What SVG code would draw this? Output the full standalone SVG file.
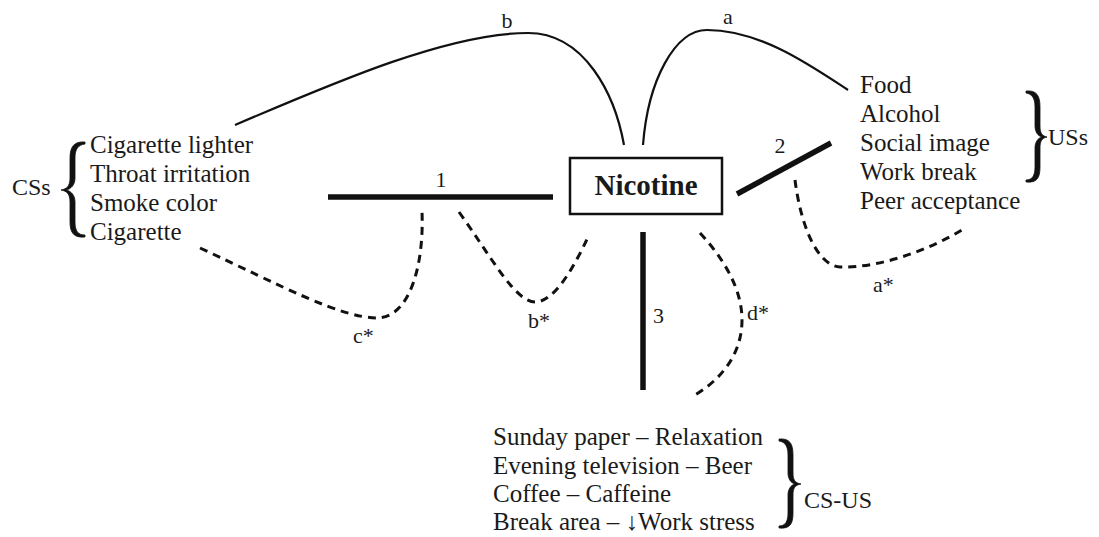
<svg xmlns="http://www.w3.org/2000/svg" width="1099" height="537" viewBox="0 0 1099 537">
<style>
text{font-family:"Liberation Serif","Times New Roman",serif;fill:#1a1a1a}
.item{font-size:25px}
.lbl{font-size:22px}
.grp{font-size:24px}
.solid{fill:none;stroke:#111;stroke-width:2.2}
.dash{fill:none;stroke:#111;stroke-width:3;stroke-dasharray:8 6}
.bar{stroke:#111;stroke-width:5.5;stroke-linecap:butt}
.brace{fill:#111;stroke:#111;stroke-width:0.8;stroke-linejoin:round}
</style>
<rect width="1099" height="537" fill="#fff"/>
<g id="connectors">
<path class="solid" d="M 235 125 C 340 80, 450 33, 528 33 C 585 33, 615 95, 624 145"/>
<path class="solid" d="M 643 145 C 648 80, 675 30, 707 30 C 760 30, 810 65, 848 90"/>
<path class="dash" d="M 200 248 C 280 285, 340 318, 378 318 C 412 316, 424 260, 422 212"/>
<path class="dash" d="M 459 212 C 490 255, 515 302, 535 302 C 555 302, 575 265, 588 237"/>
<path class="dash" d="M 700 233 C 725 260, 742 290, 742 320 C 742 355, 720 380, 695 395"/>
<path class="dash" d="M 795 180 C 800 220, 815 265, 840 267 C 880 268, 930 250, 965 228"/>
<line class="bar" x1="328" y1="197" x2="553" y2="197"/>
<line class="bar" x1="737" y1="194" x2="831" y2="143"/>
<line class="bar" x1="643" y1="232" x2="643" y2="390"/>
<text class="lbl" x="507" y="28" text-anchor="middle">b</text>
<text class="lbl" x="728" y="24" text-anchor="middle">a</text>
<text class="lbl" x="441" y="187" text-anchor="middle">1</text>
<text class="lbl" x="780" y="153" text-anchor="middle">2</text>
<text class="lbl" x="653" y="323">3</text>
<text class="lbl" x="353" y="343">c*</text>
<text class="lbl" x="528" y="328">b*</text>
<text class="lbl" x="747" y="320">d*</text>
<text class="lbl" x="873" y="292">a*</text>
</g>
<g id="nicotine">
<rect x="570" y="158" width="152" height="56" fill="#fff" stroke="#111" stroke-width="2.5"/>
<text x="646" y="195" text-anchor="middle" font-size="29" font-weight="bold">Nicotine</text>
</g>
<g id="css">
<path class="brace" d="M 85 142 C 74 141, 70 147, 70 158 L 70 178 C 70 186, 67 189, 61 190 C 67 191, 70 194, 70 202 L 70 222 C 70 233, 74 238, 85 237 L 85 235 C 78 235, 75 231, 75 222 L 75 202 C 75 195, 71 191, 66 190 C 71 189, 75 185, 75 178 L 75 158 C 75 149, 78 145, 85 144 Z"/>
<text class="grp" x="12" y="195" font-size="23">CSs</text>
<text class="item" x="90" y="153">Cigarette lighter</text>
<text class="item" x="90" y="182">Throat irritation</text>
<text class="item" x="90" y="211">Smoke color</text>
<text class="item" x="90" y="240">Cigarette</text>
</g>
<g id="uss">
<text class="item" x="860" y="93">Food</text>
<text class="item" x="860" y="122">Alcohol</text>
<text class="item" x="860" y="151">Social image</text>
<text class="item" x="860" y="180">Work break</text>
<text class="item" x="860" y="209">Peer acceptance</text>
<path class="brace" d="M 1026 91 C 1037 90, 1040 96, 1040 107 L 1040 126 C 1040 133, 1042 136, 1047 137 C 1042 138, 1040 141, 1040 148 L 1040 167 C 1040 178, 1037 183, 1026 182 L 1026 180 C 1032 180, 1035 176, 1035 167 L 1035 148 C 1035 142, 1038 138, 1042 137 C 1038 136, 1035 132, 1035 126 L 1035 107 C 1035 98, 1032 94, 1026 93 Z"/>
<text class="grp" x="1048" y="145">USs</text>
</g>
<g id="csus">
<text class="item" x="493" y="445">Sunday paper – Relaxation</text>
<text class="item" x="493" y="474">Evening television – Beer</text>
<text class="item" x="493" y="502">Coffee – Caffeine</text>
<text class="item" x="493" y="530">Break area – ↓Work stress</text>
<path class="brace" d="M 779 439 C 790 438, 793 444, 793 455 L 793 473 C 793 480, 795 483, 801 484 C 795 485, 793 488, 793 495 L 793 513 C 793 524, 790 529, 779 528 L 779 526 C 785 526, 788 522, 788 513 L 788 495 C 788 489, 791 485, 795 484 C 791 483, 788 479, 788 473 L 788 455 C 788 446, 785 442, 779 441 Z"/>
<text class="grp" x="804" y="508">CS-US</text>
</g>
</svg>
